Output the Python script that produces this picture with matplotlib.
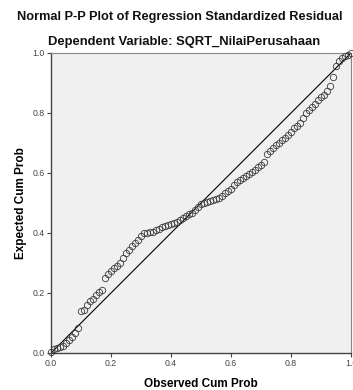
import matplotlib
matplotlib.use("Agg")
import matplotlib.pyplot as plt

# observed vs expected cumulative probabilities
observed = [0.00, 0.01, 0.02, 0.03, 0.04, 0.05, 0.06, 0.07, 0.08, 0.09,
            0.10, 0.11, 0.12, 0.13, 0.14, 0.15, 0.16, 0.17, 0.18, 0.19,
            0.20, 0.21, 0.22, 0.23, 0.24, 0.25, 0.26, 0.27, 0.28, 0.29,
            0.30, 0.31, 0.32, 0.33, 0.34, 0.35, 0.36, 0.37, 0.38, 0.39,
            0.40, 0.41, 0.42, 0.43, 0.44, 0.45, 0.46, 0.47, 0.48, 0.49,
            0.50, 0.51, 0.52, 0.53, 0.54, 0.55, 0.56, 0.57, 0.58, 0.59,
            0.60, 0.61, 0.62, 0.63, 0.64, 0.65, 0.66, 0.67, 0.68, 0.69,
            0.70, 0.71, 0.72, 0.73, 0.74, 0.75, 0.76, 0.77, 0.78, 0.79,
            0.80, 0.81, 0.82, 0.83, 0.84, 0.85, 0.86, 0.87, 0.88, 0.89,
            0.90, 0.91, 0.92, 0.93, 0.94, 0.95, 0.96, 0.97, 0.98, 0.99, 1.00]
expected = [0.005, 0.012, 0.018, 0.020, 0.024, 0.035, 0.045, 0.055, 0.068, 0.082,
            0.140, 0.145, 0.160, 0.172, 0.180, 0.192, 0.202, 0.210, 0.250, 0.262,
            0.275, 0.285, 0.290, 0.300, 0.318, 0.335, 0.345, 0.357, 0.368, 0.378,
            0.390, 0.399, 0.400, 0.402, 0.404, 0.410, 0.415, 0.420, 0.424, 0.428,
            0.430, 0.433, 0.437, 0.442, 0.450, 0.456, 0.462, 0.468, 0.478, 0.488,
            0.497, 0.500, 0.503, 0.506, 0.509, 0.512, 0.516, 0.522, 0.532, 0.540,
            0.548, 0.560, 0.570, 0.577, 0.584, 0.590, 0.597, 0.602, 0.610, 0.620,
            0.628, 0.636, 0.665, 0.675, 0.683, 0.692, 0.700, 0.710, 0.718, 0.727,
            0.738, 0.750, 0.758, 0.768, 0.785, 0.800, 0.810, 0.820, 0.830, 0.842,
            0.853, 0.860, 0.872, 0.890, 0.920, 0.958, 0.972, 0.982, 0.990, 0.995, 0.999]
ticks = [0.0, 0.2, 0.4, 0.6, 0.8, 1.0]
tick_labels = ["0.0", "0.2", "0.4", "0.6", "0.8", "1.0"]

plt.rcParams['font.family'] = ['Liberation Sans', 'DejaVu Sans']

fig = plt.figure(figsize=(3.53, 3.90), dpi=100)
ax = fig.add_axes([51 / 353, 37 / 390, 300 / 353, 300 / 390])
ax.set_facecolor('#f0f0f0')

# reference diagonal
ax.plot([0, 1], [0, 1], color='black', lw=0.8, zorder=2)
ax.plot(observed, expected, linestyle='none', marker='o', markersize=4.6,
        markerfacecolor='none', markeredgecolor='#3a3a3a', markeredgewidth=0.6,
        zorder=3, clip_on=False)

ax.set_xlim(0, 1)
ax.set_ylim(0, 1)
ax.set_xticks(ticks)
ax.set_xticklabels(tick_labels)
ax.set_yticks(ticks)
ax.set_yticklabels(tick_labels)
ax.tick_params(length=3, width=0.8, color='#444444', labelsize=6.3,
               labelcolor='#444444', pad=1.5)

for side in ['left', 'bottom']:
    ax.spines[side].set_color('#444444')
    ax.spines[side].set_linewidth(1.0)
for side in ['top', 'right']:
    ax.spines[side].set_color('#888888')
    ax.spines[side].set_linewidth(0.8)

ax.set_xlabel('Observed Cum Prob', fontsize=8.5, fontweight='bold', labelpad=7)
ax.set_ylabel('Expected Cum Prob', fontsize=8.5, fontweight='bold', labelpad=4)

fig.text(180 / 353, 1 - 17 / 390, 'Normal P-P Plot of Regression Standardized Residual',
         ha='center', va='center', fontsize=9.2, fontweight='bold', color='#111111')
fig.text(184 / 353, 1 - 42 / 390, 'Dependent Variable: SQRT_NilaiPerusahaan',
         ha='center', va='center', fontsize=9.4, fontweight='bold', color='#111111')

fig.savefig('out.png', dpi=100)
